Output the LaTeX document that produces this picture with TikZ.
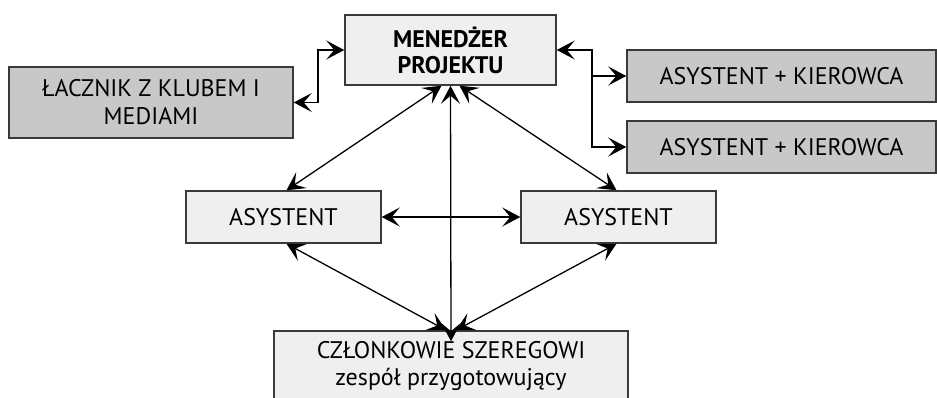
\documentclass[tikz,border=0pt]{standalone}
\usepackage{fontspec}
\setmainfont{PT Sans}
\usetikzlibrary{arrows.meta}
\definecolor{lightbox}{HTML}{EFEFEF}
\definecolor{darkbox}{HTML}{C8C8C8}
\definecolor{edgecol}{HTML}{3A3A3A}
\begin{document}
\begin{tikzpicture}[x=1pt,y=-1pt,
  box/.style={draw=edgecol,line width=1.5pt,fill=lightbox,inner sep=0pt,align=center,
    font=\fontsize{24}{27}\selectfont},
  dbox/.style={box,fill=darkbox},
  tip/.tip={Stealth[length=18pt,width=19pt,inset=8pt]},
  conn/.style={line width=1.3pt,black,tip-tip},
  conne/.style={line width=1.3pt,black,-tip},
]
\useasboundingbox (0,0) rectangle (937,397);
\clip (0,0) rectangle (937,397);

\node[box,minimum width=211pt,minimum height=70pt,font=\bfseries\fontsize{24}{26}\selectfont]
  (mgr) at (450.5,50) {MENEDŻER\\PROJEKTU};
\node[dbox,minimum width=284pt,minimum height=71pt,font=\fontsize{24}{28}\selectfont]
  (lacz) at (151,102.5) {ŁACZNIK Z KLUBEM I\\MEDIAMI};
\node[dbox,minimum width=309pt,minimum height=52pt] (ak1) at (781.5,76) {ASYSTENT + KIEROWCA};
\node[dbox,minimum width=309pt,minimum height=52pt] (ak2) at (781.5,147) {ASYSTENT + KIEROWCA};
\node[box,minimum width=195pt,minimum height=52pt] (asL) at (283.5,217) {ASYSTENT};
\node[box,minimum width=195pt,minimum height=52pt] (asR) at (618.5,217) {ASYSTENT};
\node[box,minimum width=354pt,minimum height=100pt] (czl) at (451,381) {};
\node[align=center,inner sep=0pt,font=\fontsize{24}{27}\selectfont] (czlt) at (451,366)
  {CZŁONKOWIE SZEREGOWI\\zespół przygotowujący};

\coordinate (jl) at (318,0);
\coordinate (jr) at (592,0);

\draw[conn] (lacz.east) -- (lacz.east -| jl) |- (mgr.west);
\draw[conn] (mgr.east) -- (mgr.east -| jr) |- (ak2.west);
\draw[conne] (ak1.west -| jr) -- (ak1.west);

\draw[conn] ([xshift=-9pt]mgr.south) -- ([xshift=3pt]asL.north);
\draw[conn] ([xshift=9pt]mgr.south) -- ([xshift=-2pt]asR.north);
\draw[conn] (mgr.south) -- ([yshift=-11pt]czl.north);
\draw[conn] ([xshift=3pt]asL.south) -- ([xshift=-5pt]czl.north);
\draw[conn] ([xshift=-2pt]asR.south) -- ([xshift=5pt]czl.north);
\draw[conn] (asL.east) -- (asR.west);
\end{tikzpicture}
\end{document}
